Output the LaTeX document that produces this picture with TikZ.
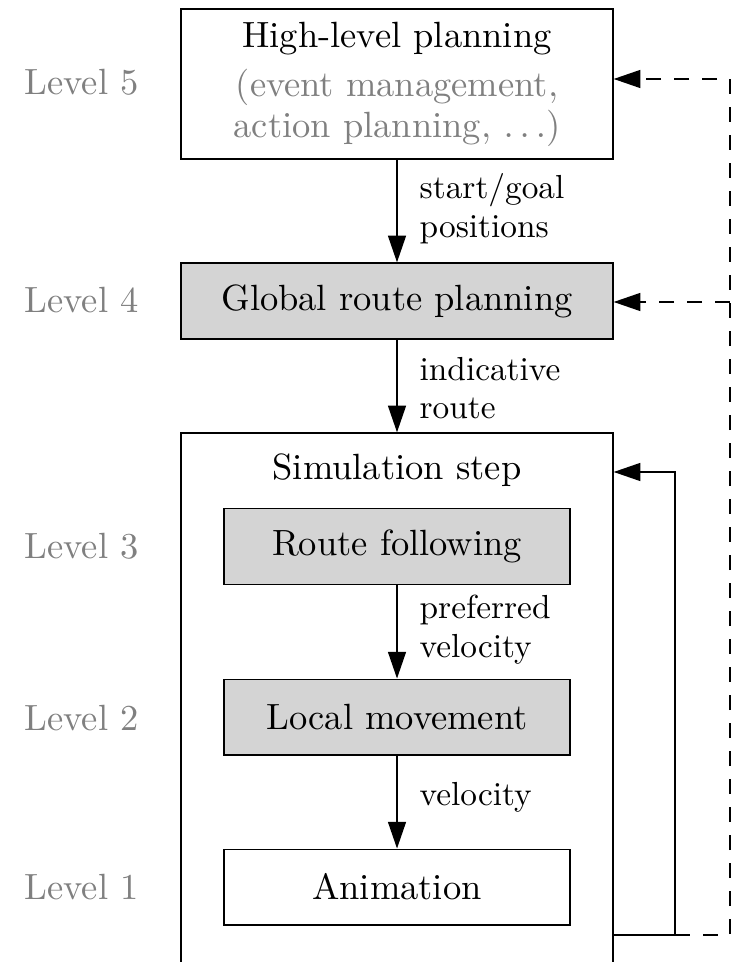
\documentclass[tikz,border=0pt]{standalone}
\usetikzlibrary{arrows.meta}
\definecolor{boxgray}{gray}{0.83}
\definecolor{txtgray}{gray}{0.5}
\tikzset{
  base/.style={x=0.3pt,y=-0.3pt},
  bigbox/.style={draw,line width=0.4pt,inner sep=0pt,minimum width=129.6pt,align=center,font=\fontsize{10.95}{12.2}\selectfont},
  smallbox/.style={draw,line width=0.4pt,inner sep=0pt,minimum width=103.8pt,minimum height=22.7pt,font=\fontsize{10.95}{13.6}\selectfont},
  filled/.style={fill=boxgray},
  flowarrow/.style={line width=0.4pt,-{Triangle[length=8pt,width=5.4pt]}},
  dasharrow/.style={line width=0.4pt,dash pattern=on 4.5pt off 3.9pt,-{Triangle[length=8pt,width=5.4pt]}},
  lbl/.style={anchor=west,align=left,inner sep=0pt,font=\fontsize{10}{11.6}\selectfont},
  lvl/.style={anchor=west,inner sep=0pt,text=txtgray,font=\fontsize{10.95}{13.6}\selectfont},
}
\begin{document}
\begin{tikzpicture}[base]
\useasboundingbox (0,0) rectangle (734,962);
\clip (0,0) rectangle (734,962);
% boxes
\node[bigbox,minimum height=45pt] (hl) at (397,84) {High-level planning\\[2.6pt]{\color{txtgray}(event management,}\\{\color{txtgray}action planning, $\ldots$)}};
\node[bigbox,filled,minimum height=22.8pt] (gr) at (397,301) {Global route planning};
\node[bigbox,minimum height=170pt] (sim) at (397,716.3) {};
\node[inner sep=0pt,font=\fontsize{10.95}{13.6}\selectfont] (simt) at (397,470) {Simulation step};
\node[smallbox,filled] (rf) at (397,546.5) {Route following};
\node[smallbox,filled] (lm) at (397,717) {Local movement};
\node[smallbox] (an) at (397,887) {Animation};
% level labels
\node[lvl] (l5) at (24,82) {Level 5};
\node[lvl] (l4) at (24,300) {Level 4};
\node[lvl] (l3) at (24,546) {Level 3};
\node[lvl] (l2) at (24,718) {Level 2};
\node[lvl] (l1) at (24,887) {Level 1};
% vertical arrows
\draw[flowarrow] (hl.south) -- (gr.north);
\draw[flowarrow] (gr.south) -- (sim.north);
\draw[flowarrow] (rf.south) -- (lm.north);
\draw[flowarrow] (lm.south) -- (an.north);
% arrow labels
\node[lbl] (t1) at (419,209) {start/goal\\positions};
\node[lbl] (t2) at (419,388) {indicative\\route};
\node[lbl] (t3) at (419,630) {preferred\\velocity};
\node[lbl] (t4) at (419,797) {velocity};
% feedback
\coordinate (fb0) at (613,935);
\coordinate (fb1) at (675,935);
\coordinate (fb2) at (675,472);
\coordinate (fb3) at (730,935);
\coordinate (fb4) at (730,79);
\coordinate (fb5) at (730,302);
\draw[line width=0.4pt] (fb0) -- (fb1);
\draw[flowarrow] (fb1) -- (fb2) -- (sim.east |- fb2);
\draw[dasharrow] (fb1) -- (fb3) -- (fb4) -- (hl.east |- fb4);
\draw[dasharrow] (fb5) -- (gr.east |- fb5);
\end{tikzpicture}
\end{document}
